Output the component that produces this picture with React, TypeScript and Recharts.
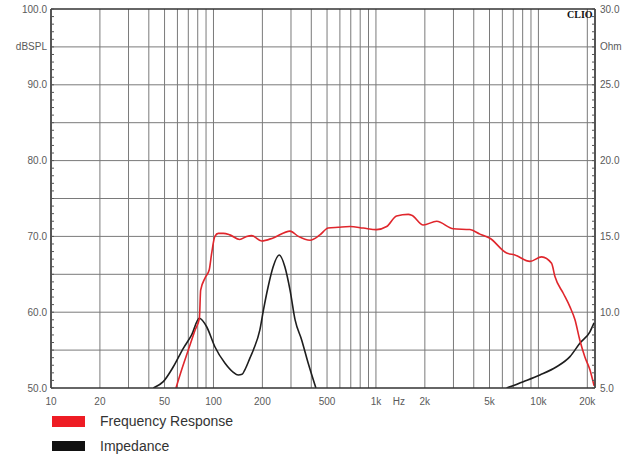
// CLIO frequency response / impedance plot
import { LineChart, Line, XAxis, YAxis, CartesianGrid, ReferenceLine } from "recharts";

// frequency response, Hz -> dBSPL
const freqResponse = [
  { f: 58.8, db: 50.0 }, { f: 63.7, db: 52.4 }, { f: 70, db: 55.0 }, { f: 76.9, db: 57.6 },
  { f: 81.9, db: 59.2 }, { f: 83.4, db: 62.9 }, { f: 88.7, db: 64.5 }, { f: 94.2, db: 65.6 },
  { f: 97.5, db: 67.8 }, { f: 102, db: 70.0 }, { f: 107, db: 70.4 }, { f: 115, db: 70.4 },
  { f: 126, db: 70.2 }, { f: 145, db: 69.6 }, { f: 160, db: 70.0 }, { f: 172, db: 70.1 },
  { f: 198, db: 69.4 }, { f: 233, db: 69.8 }, { f: 296, db: 70.7 }, { f: 333, db: 70.0 },
  { f: 393, db: 69.5 }, { f: 452, db: 70.2 }, { f: 508, db: 71.1 }, { f: 586, db: 71.2 },
  { f: 692, db: 71.3 }, { f: 836, db: 71.1 }, { f: 1009, db: 70.9 }, { f: 1164, db: 71.3 },
  { f: 1340, db: 72.7 }, { f: 1581, db: 72.9 }, { f: 1660, db: 72.8 }, { f: 1955, db: 71.5 },
  { f: 2364, db: 72.0 }, { f: 2995, db: 71.0 }, { f: 3787, db: 70.9 }, { f: 4363, db: 70.3 },
  { f: 5032, db: 69.75 }, { f: 6371, db: 67.8 }, { f: 7163, db: 67.55 }, { f: 8868, db: 66.7 },
  { f: 10470, db: 67.3 }, { f: 12050, db: 66.45 }, { f: 12640, db: 64.7 }, { f: 14220, db: 62.5 },
  { f: 15640, db: 60.7 }, { f: 16790, db: 59.0 }, { f: 17990, db: 56.3 }, { f: 19320, db: 54.1 },
  { f: 20750, db: 52.4 }, { f: 22000, db: 50.3 },
];

// impedance, Hz -> Ohm (the middle part is below 5 Ohm, off the chart)
const impedanceLow = [
  { f: 42.6, ohm: 5.0 }, { f: 49.1, ohm: 5.42 }, { f: 56.6, ohm: 6.4 }, { f: 65.2, ohm: 7.62 },
  { f: 73.4, ohm: 8.5 }, { f: 81.8, ohm: 9.6 }, { f: 90.8, ohm: 9.04 }, { f: 102, ohm: 7.72 },
  { f: 117.8, ohm: 6.63 }, { f: 132, ohm: 6.05 }, { f: 142, ohm: 5.86 }, { f: 150, ohm: 5.9 },
  { f: 156, ohm: 6.2 }, { f: 168, ohm: 7.0 }, { f: 176, ohm: 7.51 }, { f: 193, ohm: 8.83 },
  { f: 203, ohm: 10.14 }, { f: 217, ohm: 11.68 }, { f: 233, ohm: 13.0 }, { f: 254, ohm: 13.77 },
  { f: 275, ohm: 13.0 }, { f: 296, ohm: 11.46 }, { f: 318, ohm: 9.49 }, { f: 349, ohm: 8.17 },
  { f: 383, ohm: 6.63 }, { f: 427, ohm: 5.0 },
];
const impedanceHigh = [
  { f: 6370, ohm: 5.0 }, { f: 8070, ohm: 5.42 }, { f: 10210, ohm: 5.86 }, { f: 12940, ohm: 6.4 },
  { f: 15640, ohm: 7.07 }, { f: 17990, ohm: 7.95 }, { f: 20750, ohm: 8.71 }, { f: 22000, ohm: 9.3 },
];

const freqGrid = [
  10, 20, 30, 40, 50, 60, 70, 80, 90,
  100, 200, 300, 400, 500, 600, 700, 800, 900,
  1000, 2000, 3000, 4000, 5000, 6000, 7000, 8000, 9000,
  10000, 20000,
];
const freqLabels: Record<number, string> = {
  10: "10", 20: "20", 50: "50", 100: "100", 200: "200", 500: "500",
  1000: "1k", 2000: "2k", 5000: "5k", 10000: "10k", 20000: "20k",
};
const freqUnit = "Hz";

const splGrid = [55, 60, 65, 70, 75, 80, 85, 90, 95];
const splLabels: Record<number, string> = {
  100: "100.0", 95: "dBSPL", 90: "90.0", 80: "80.0", 70: "70.0", 60: "60.0", 50: "50.0",
};
const ohmLabels: Record<number, string> = {
  30: "30.0", 27.5: "Ohm", 25: "25.0", 20: "20.0", 15: "15.0", 10: "10.0", 5: "5.0",
};
// small tick marks every 1 dB / 0.5 Ohm
const splTicks = Array.from({ length: 51 }, (_, i) => 50 + i);
const ohmTicks = Array.from({ length: 51 }, (_, i) => 5 + i * 0.5);

const labelColor = "#5a5a5a";

const SplTick = (props: any) => {
  const { x, y, payload } = props;
  const axisX = x + 4;
  const label = splLabels[payload.value];
  return (
    <g>
      <line x1={axisX} x2={axisX + 3} y1={y} y2={y} stroke="#555" />
      {label && (
        <text x={x} y={y} dy="0.35em" textAnchor="end" fontSize={10} fill={labelColor}>
          {label}
        </text>
      )}
    </g>
  );
};

const OhmTick = (props: any) => {
  const { x, y, payload } = props;
  const axisX = x - 5;
  const label = ohmLabels[payload.value];
  return (
    <g>
      <line x1={axisX} x2={axisX - 3} y1={y} y2={y} stroke="#555" />
      {label && (
        <text x={x} y={y} dy="0.35em" textAnchor="start" fontSize={10} fill={labelColor}>
          {label}
        </text>
      )}
    </g>
  );
};

const FreqTick = (props: any) => {
  const { x, y, payload } = props;
  const label = freqLabels[payload.value];
  return (
    <g>
      {label && (
        <text x={x} y={y} dy="0.35em" textAnchor="middle" fontSize={10} fill={labelColor}>
          {label}
        </text>
      )}
      {payload.value === 1000 && (
        <text x={x + 23} y={y} dy="0.35em" textAnchor="middle" fontSize={10} fill={labelColor}>
          {freqUnit}
        </text>
      )}
    </g>
  );
};

const frame = { stroke: "#333", strokeWidth: 1.5 };

export default function App() {
  return (
    <div
      style={{
        position: "absolute",
        left: 0,
        top: 0,
        width: 623,
        height: 454,
        background: "#fff",
        fontFamily: "'Liberation Sans', Arial, sans-serif",
      }}
    >
      <LineChart width={623} height={412} margin={{ top: 9, right: 0, bottom: 0, left: 0 }}>
        <CartesianGrid yAxisId="spl" horizontalValues={splGrid} stroke="#7a7a7a" strokeWidth={1} />
        <XAxis
          dataKey="f"
          type="number"
          scale="log"
          domain={[10, 22300]}
          allowDataOverflow
          ticks={freqGrid}
          interval={0}
          height={24}
          tickSize={0}
          tickMargin={13}
          tick={<FreqTick />}
          axisLine={frame}
        />
        <YAxis
          yAxisId="spl"
          orientation="left"
          domain={[50, 100]}
          allowDataOverflow
          ticks={splTicks}
          interval={0}
          width={51}
          tickSize={0}
          tickMargin={4}
          tick={<SplTick />}
          axisLine={frame}
        />
        <YAxis
          yAxisId="ohm"
          orientation="right"
          domain={[5, 30]}
          allowDataOverflow
          ticks={ohmTicks}
          interval={0}
          width={28}
          tickSize={0}
          tickMargin={5}
          tick={<OhmTick />}
          axisLine={frame}
        />
        <ReferenceLine yAxisId="spl" y={100} stroke="#333" strokeWidth={1.5} />
        <Line
          data={impedanceLow}
          dataKey="ohm"
          yAxisId="ohm"
          type="monotone"
          stroke="#1e1e1e"
          strokeWidth={1.6}
          dot={false}
          isAnimationActive={false}
        />
        <Line
          data={impedanceHigh}
          dataKey="ohm"
          yAxisId="ohm"
          type="monotone"
          stroke="#1e1e1e"
          strokeWidth={1.6}
          dot={false}
          isAnimationActive={false}
        />
        <Line
          data={freqResponse}
          dataKey="db"
          yAxisId="spl"
          type="monotone"
          stroke="#e0262c"
          strokeWidth={1.6}
          dot={false}
          isAnimationActive={false}
        />
      </LineChart>
      <span
        style={{
          position: "absolute",
          left: 567,
          top: 9,
          fontFamily: "'Liberation Serif', serif",
          fontWeight: "bold",
          fontSize: 10,
          lineHeight: "11px",
          color: "#111",
        }}
      >
        CLIO
      </span>
      <div style={{ position: "absolute", left: 52, top: 416, width: 33, height: 11, background: "#ee1c24" }} />
      <span style={{ position: "absolute", left: 100, top: 414, fontSize: 14, lineHeight: "15px", color: "#333" }}>
        Frequency Response
      </span>
      <div style={{ position: "absolute", left: 52, top: 441, width: 33, height: 10, background: "#111" }} />
      <span style={{ position: "absolute", left: 100, top: 439, fontSize: 14, lineHeight: "15px", color: "#333" }}>
        Impedance
      </span>
    </div>
  );
}
